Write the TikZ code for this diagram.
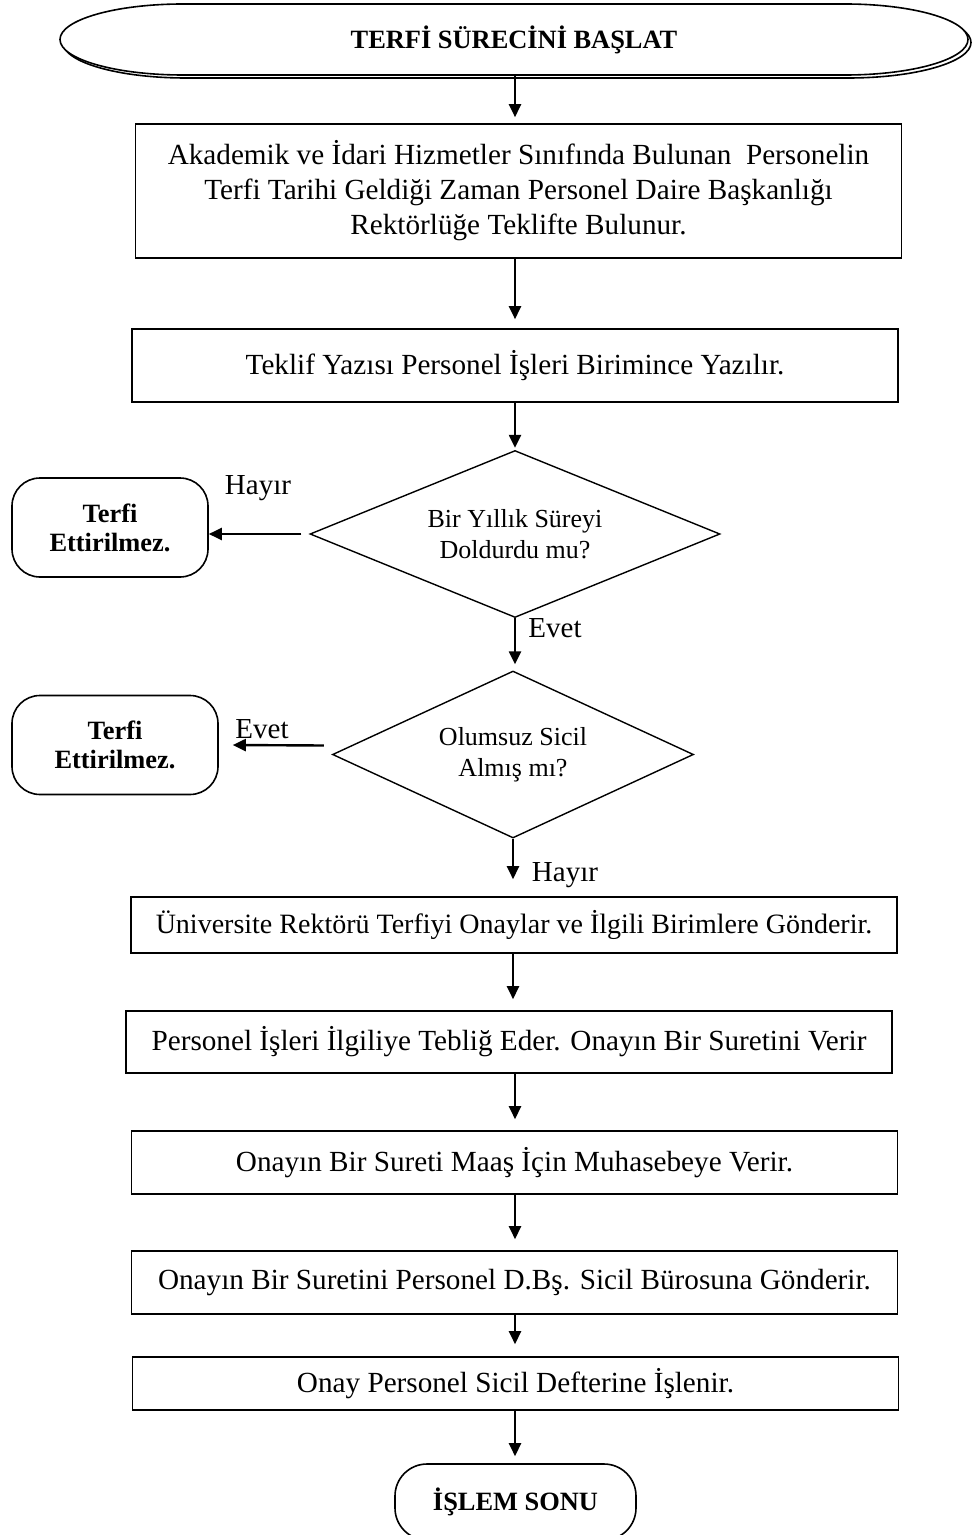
\documentclass[tikz,border=0pt]{standalone}
\usepackage{fontspec}
\setmainfont{Liberation Serif}
\usetikzlibrary{arrows.meta,shapes.geometric,backgrounds}

\begin{document}
\begin{tikzpicture}[
  x=0.5pt, y=-0.5pt,
  box/.style={draw, line width=0.8pt, align=center, inner sep=2pt,
              minimum width=383pt, font=\fontsize{14.6}{17.5}\selectfont},
  dec/.style={draw, diamond, line width=0.7pt, align=center, inner sep=0pt,
              minimum height=83.5pt, font=\fontsize{13}{15.5}\selectfont},
  term/.style={draw, rounded corners=14pt, line width=0.8pt, align=center,
               minimum height=49.5pt, font=\bfseries\fontsize{13.2}{14.5}\selectfont},
  lbl/.style={inner sep=0pt, font=\fontsize{14.5}{17}\selectfont},
  >={Triangle[length=6.5pt, width=6pt]}, line width=1.2pt]
  \useasboundingbox (0,0) rectangle (972,1535);

  \node[minimum width=454pt, minimum height=35.5pt, outer sep=0pt,
        font=\bfseries\fontsize{13.2}{16}\selectfont] (start) at (514,39.5) {TERFİ SÜRECİNİ BAŞLAT};
  \begin{scope}[on background layer]
    \draw[line width=0.8pt, fill=white]
      ([xshift=63pt, yshift=-1.5pt]start.north west) -- ([xshift=-60pt, yshift=-1.5pt]start.north east)
      arc[start angle=90, end angle=-90, x radius=61.5pt, y radius=17.75pt]
      -- ([xshift=63pt, yshift=-1.5pt]start.south west)
      arc[start angle=270, end angle=90, x radius=61.5pt, y radius=17.75pt] -- cycle;
    \draw[line width=0.8pt, fill=white]
      ([xshift=61.5pt]start.north west) -- ([xshift=-61.5pt]start.north east)
      arc[start angle=90, end angle=-90, x radius=61.5pt, y radius=17.75pt]
      -- ([xshift=61.5pt]start.south west)
      arc[start angle=270, end angle=90, x radius=61.5pt, y radius=17.75pt] -- cycle;
  \end{scope}

  \node[box, minimum height=67pt] (b1) at (518.5,191)
    {Akademik ve İdari Hizmetler Sınıfında Bulunan~ Personelin\\
     Terfi Tarihi Geldiği Zaman Personel Daire Başkanlığı\\
     Rektörlüğe Teklifte Bulunur.};
  \node[box, minimum height=36.5pt] (b2) at (515,365.5) {Teklif Yazısı Personel İşleri Birimince Yazılır.};
  \node[dec, minimum width=205pt, shape aspect=2.45] (d1) at (515,534) {Bir Yıllık Süreyi\\Doldurdu mu?};
  \node[dec, minimum width=180.5pt, shape aspect=2.16] (d2) at (513,754.5) {Olumsuz Sicil\\Almış mı?};
  \node[term, minimum width=98pt] (t1) at (110,527.5) {Terfi\\Ettirilmez.};
  \node[term, minimum width=103pt] (t2) at (115,745) {Terfi\\Ettirilmez.};
  \node[box, minimum height=28pt, font=\fontsize{14}{17}\selectfont] (b3) at (514,925)
    {Üniversite Rektörü Terfiyi Onaylar ve İlgili Birimlere Gönderir.};
  \node[box, minimum height=31pt] (b4) at (509,1042) {Personel İşleri İlgiliye Tebliğ Eder. Onayın Bir Suretini Verir};
  \node[box, minimum height=31.5pt] (b5) at (514.5,1162.5) {Onayın Bir Sureti Maaş İçin Muhasebeye Verir.};
  \node[box, minimum height=31.5pt] (b6) at (514.5,1282.5) {Onayın Bir Suretini Personel D.Bş. Sicil Bürosuna Gönderir.};
  \node[box, minimum height=26.5pt] (b7) at (515.5,1383.5) {Onay Personel Sicil Defterine İşlenir.};
  \node[term, minimum width=120.5pt, minimum height=38pt, rounded corners=16pt,
        font=\bfseries\fontsize{13.2}{16}\selectfont] (fin) at (515.5,1502) {İŞLEM SONU};

  \node[lbl] (l1) at (258,488) {Hayır};
  \node[lbl] (l2) at (555,628) {Evet};
  \node[lbl] (l3) at (262,729) {Evet};
  \node[lbl] (l4) at (565,875) {Hayır};

  \draw[->, shorten >=3pt] (start.south -| d1) -- (b1.north -| d1);
  \draw[->, shorten >=4.5pt] (b1.south -| d1) -- (b2.north -| d1);
  \draw[->, shorten >=1pt] (b2.south -| d1) -- (d1.north);
  \draw[->, shorten >=3pt] (d1.south) -- (d2.north -| d1);
  \draw[->, shorten >=8.5pt] (d2.south) -- (b3.north -| d2);
  \draw[->, shorten >=5.5pt] (b3.south -| d2) -- (b4.north -| d2);
  \draw[->, shorten >=5.5pt] (b4.south -| d1) -- (b5.north -| d1);
  \draw[->, shorten >=5.5pt] (b5.south -| d1) -- (b6.north -| d1);
  \draw[->, shorten >=6pt] (b6.south -| d1) -- (b7.north -| d1);
  \draw[->, shorten >=3.5pt] (b7.south -| d1) -- (fin.north -| d1);
  \draw[->] ([xshift=-4pt]d1.west) -- (d1.west -| t1.east);
  \draw[->] ([xshift=-4pt, yshift=4.5pt]d2.west) -- ([xshift=7pt]t2.east);
\end{tikzpicture}
\end{document}
